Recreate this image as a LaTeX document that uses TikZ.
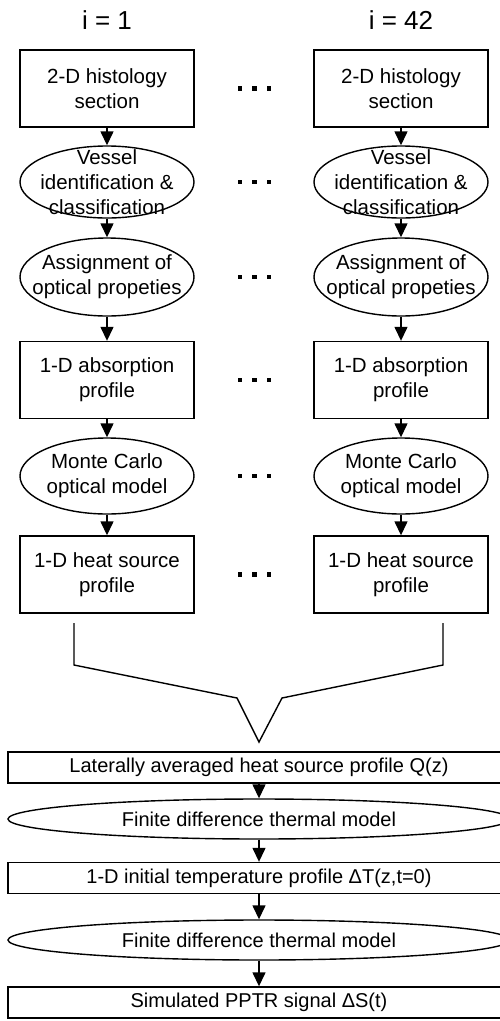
\documentclass[tikz,border=0pt]{standalone}
\usepackage{fontspec}
\setmainfont{Liberation Sans}
\usetikzlibrary{shapes.geometric,arrows.meta}
\begin{document}
\begin{tikzpicture}[x=1pt,y=-1pt,
  line width=1.4pt,
  stepbox/.style={draw, rectangle, minimum width=174pt, minimum height=77pt,
    inner sep=0pt, align=center, font=\fontsize{20.5}{25}\selectfont},
  oval/.style={draw, ellipse, minimum width=174pt, inner sep=0pt},
  lbl/.style={align=center, font=\fontsize{20.5}{25}\selectfont, inner sep=0pt},
  wide/.style={draw, rectangle, minimum width=502pt, minimum height=31pt,
    inner sep=0pt, font=\fontsize{20}{24}\selectfont},
  wideoval/.style={draw, ellipse, minimum width=502pt, minimum height=40pt,
    inner sep=0pt, font=\fontsize{20}{24}\selectfont},
  flow/.style={-{Triangle[width=13pt,length=14pt]}},
  head/.style={font=\fontsize{26}{30}\selectfont, inner sep=0pt}
]
\useasboundingbox (0,0) rectangle (499,1021);

% two parallel per-section pipelines
\foreach \c/\x/\h in {a/107/{i = 1}, b/401/{i = 42}} {
  \node[head] (h\c) at (\x,20) {\h};
  \node[stepbox] (s1\c) at (\x,88.5) {2-D histology\\section};
  \node[oval, minimum height=72pt] (s2\c) at (\x,182) {};
  \node[lbl] (t2\c) at (s2\c) {Vessel\\identification \&\\classification};
  \node[oval, minimum height=78pt] (s3\c) at (\x,277) {};
  \node[lbl] (t3\c) at (s3\c) {Assignment of\\optical propeties};
  \node[stepbox] (s4\c) at (\x,380) {1-D absorption\\profile};
  \node[oval, minimum height=76pt] (s5\c) at (\x,476) {};
  \node[lbl] (t5\c) at (s5\c) {Monte Carlo\\optical model};
  \node[stepbox] (s6\c) at (\x,574.5) {1-D heat source\\profile};
  \draw[flow] (s1\c) -- (s2\c);
  \draw[flow] (s2\c) -- (s3\c);
  \draw[flow] (s3\c) -- (s4\c);
  \draw[flow] (s4\c) -- (s5\c);
  \draw[flow] (s5\c) -- (s6\c);
}

% ellipsis dots between the two columns
\foreach \y in {88.5,182,277,380,476,574.5}
  \foreach \x in {240,254.5,269}
    \fill (\x-2.4,\y-2.4) rectangle (\x+2.4,\y+2.4);

% funnel joining both columns
\coordinate (m1) at (74,623);
\coordinate (m2) at (74,665);
\coordinate (m3) at (237,698);
\coordinate (m4) at (259,742);
\coordinate (m5) at (282,698);
\coordinate (m6) at (443,665);
\coordinate (m7) at (443,623);
\draw[line join=miter] (m1) -- (m2) -- (m3) -- (m4) -- (m5) -- (m6) -- (m7);

% common thermal stage
\node[wide] (q) at (259,767.5) {Laterally averaged heat source profile Q(z)};
\node[wideoval] (f1) at (259,819) {Finite difference thermal model};
\node[wide] (dt) at (259,878) {1-D initial temperature profile ΔT(z,t=0)};
\node[wideoval] (f2) at (259,940) {Finite difference thermal model};
\node[wide] (ds) at (259,1002.5) {Simulated PPTR signal ΔS(t)};
\draw[flow] (q) -- (f1);
\draw[flow] (f1) -- (dt);
\draw[flow] (dt) -- (f2);
\draw[flow] (f2) -- (ds);
\end{tikzpicture}
\end{document}
